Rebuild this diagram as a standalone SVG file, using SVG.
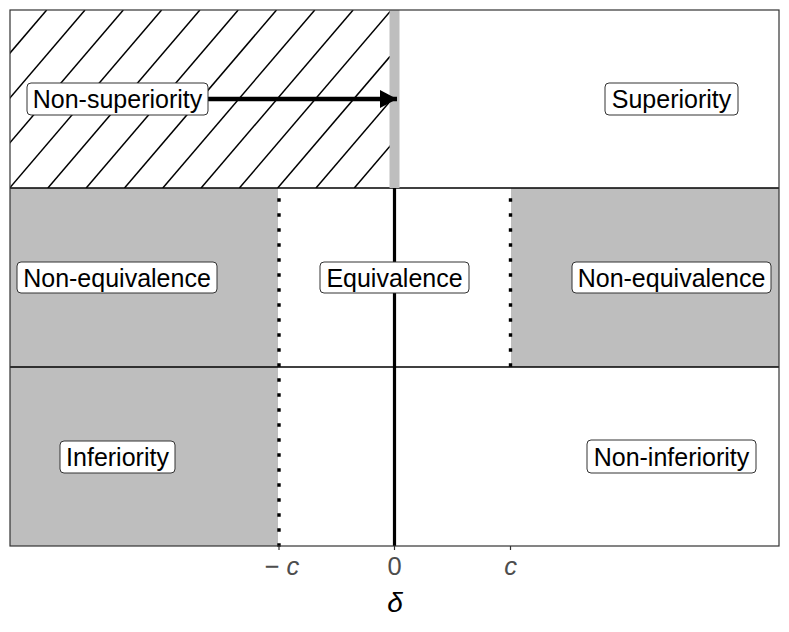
<svg xmlns="http://www.w3.org/2000/svg" width="789" height="632" viewBox="0 0 789 632">
  <style>
    .lbl rect { fill: #FFFFFF; stroke: #333333; stroke-width: 1; }
    .lbl text { font-family: "Liberation Sans", Arial, sans-serif; font-size: 25px; fill: #000000; text-anchor: middle; }
    .axis { font-family: "Liberation Sans", Arial, sans-serif; font-size: 25.5px; fill: #4D4D4D; text-anchor: middle; }
    .hatch line { stroke: #000000; stroke-width: 1.5; }
    .sep { stroke: #000000; stroke-width: 1.6; }
    .dots { stroke: #000000; stroke-width: 3.4; stroke-dasharray: 3.4 11.6; fill: none; }
    .tick { stroke: #333333; stroke-width: 1.2; }
  </style>
  <defs>
    <clipPath id="hclip"><rect x="10" y="10" width="380" height="178"/></clipPath>
    <marker id="ah" markerUnits="userSpaceOnUse" markerWidth="20" markerHeight="20" refX="17" refY="9" orient="auto">
      <path d="M0,0 L17,9 L0,18 Z" fill="#000000"/>
    </marker>
  </defs>
  <rect x="0" y="0" width="789" height="632" fill="#FFFFFF"/>

  <!-- regions -->
  <g id="regions">
    <rect x="10" y="188" width="268" height="358" fill="#BEBEBE"/>
    <rect x="511" y="188" width="268" height="179" fill="#BEBEBE"/>
    <g class="hatch" clip-path="url(#hclip)">
      <line x1="46.7" y1="10" x2="-105.3" y2="188"/>
      <line x1="85.0" y1="10" x2="-67.0" y2="188"/>
      <line x1="123.3" y1="10" x2="-28.7" y2="188"/>
      <line x1="161.6" y1="10" x2="9.6" y2="188"/>
      <line x1="199.9" y1="10" x2="47.9" y2="188"/>
      <line x1="238.2" y1="10" x2="86.2" y2="188"/>
      <line x1="276.5" y1="10" x2="124.5" y2="188"/>
      <line x1="314.8" y1="10" x2="162.8" y2="188"/>
      <line x1="353.1" y1="10" x2="201.1" y2="188"/>
      <line x1="391.4" y1="10" x2="239.4" y2="188"/>
      <line x1="429.7" y1="10" x2="277.7" y2="188"/>
      <line x1="468.0" y1="10" x2="316.0" y2="188"/>
      <line x1="506.3" y1="10" x2="354.3" y2="188"/>
    </g>
    <line class="sep" x1="10" y1="188" x2="779" y2="188"/>
    <line class="sep" x1="10" y1="367" x2="779" y2="367"/>
    <rect x="389.5" y="10" width="10" height="178" fill="#BEBEBE"/>
    <line x1="394.5" y1="188" x2="394.5" y2="546" stroke="#000000" stroke-width="3.2"/>
    <path class="dots" d="M279,546.7 L279,188"/>
    <path class="dots" d="M510.5,366.7 L510.5,188"/>
    <rect x="10" y="10" width="769" height="536" fill="none" stroke="#333333" stroke-width="1.2"/>
  </g>

  <!-- axis -->
  <g id="axis">
    <line class="tick" x1="279" y1="546" x2="279" y2="550"/>
    <line class="tick" x1="394.5" y1="546" x2="394.5" y2="550"/>
    <line class="tick" x1="510.5" y1="546" x2="510.5" y2="550"/>
    <text class="axis" x="282" y="575">− <tspan font-style="italic">c</tspan></text>
    <text class="axis" x="394.5" y="575">0</text>
    <text class="axis" x="510.5" y="575" font-style="italic">c</text>
    <text x="395" y="612" font-family="'Liberation Sans', Arial, sans-serif" font-size="28" font-style="italic" fill="#000000" text-anchor="middle">δ</text>
  </g>

  <!-- connectors -->
  <g id="connectors">
    <line x1="208" y1="99" x2="397" y2="99" stroke="#000000" stroke-width="4.5" marker-end="url(#ah)"/>
  </g>

  <!-- nodes -->
  <g id="non-superiority" class="lbl">
    <rect x="27" y="83" width="181" height="32" rx="4"/>
    <text x="117.5" y="108">Non-superiority</text>
  </g>
  <g id="superiority" class="lbl">
    <rect x="605" y="83" width="133" height="32" rx="4"/>
    <text x="671.5" y="108">Superiority</text>
  </g>
  <g id="non-equivalence-left" class="lbl">
    <rect x="17" y="262" width="200" height="31" rx="4"/>
    <text x="117" y="286.5">Non-equivalence</text>
  </g>
  <g id="equivalence" class="lbl">
    <rect x="320" y="262" width="149" height="31" rx="4"/>
    <text x="394.5" y="286.5">Equivalence</text>
  </g>
  <g id="non-equivalence-right" class="lbl">
    <rect x="572" y="262" width="199" height="31" rx="4"/>
    <text x="671.5" y="286.5">Non-equivalence</text>
  </g>
  <g id="inferiority" class="lbl">
    <rect x="60" y="441" width="115" height="32" rx="4"/>
    <text x="117.5" y="465.5">Inferiority</text>
  </g>
  <g id="non-inferiority" class="lbl">
    <rect x="587" y="440" width="169" height="33" rx="4"/>
    <text x="671.5" y="465.5">Non-inferiority</text>
  </g>
</svg>
